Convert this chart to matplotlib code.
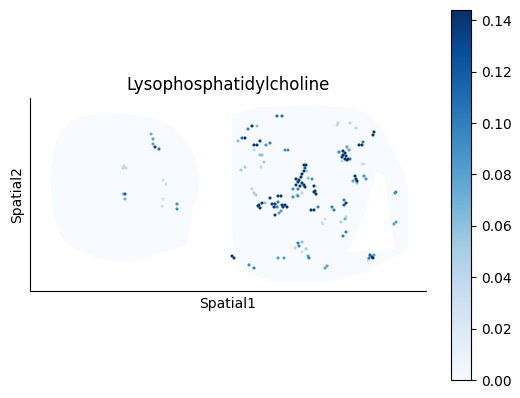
import matplotlib
matplotlib.use('Agg')
import matplotlib.pyplot as plt
from matplotlib.patches import Polygon
import numpy as np

title = 'Lysophosphatidylcholine'
vmin, vmax = 0.0, 0.144
cbar_ticks = [0.00, 0.02, 0.04, 0.06, 0.08, 0.10, 0.12, 0.14]

# tissue outlines (spatial coords, y grows downward)
left_tissue = [(63, 127), (80, 116), (113, 113), (147, 116), (170, 125), (187, 142),
               (197, 162), (200, 182), (198, 198), (193, 205), (190, 228), (187, 245),
               (177, 248), (163, 252), (147, 258), (123, 262), (97, 258), (73, 248),
               (60, 235), (53, 212), (50, 178), (53, 155), (58, 135)]
right_tissue = [(232, 115), (258, 107), (308, 105), (352, 108), (368, 115), (382, 128),
                (392, 148), (398, 162), (405, 172), (408, 195), (408, 228), (408, 248),
                (398, 255), (385, 262), (358, 275), (325, 282), (275, 282), (252, 275),
                (235, 262), (232, 228), (232, 162), (232, 128)]
right_notch = [(376, 172), (385, 176), (389, 212), (395, 250), (348, 252), (366, 212)]

# spots with signal: x, y, value
spot_x = [277, 282, 248, 252, 257, 238, 242, 245, 260, 254, 257, 266, 270, 254, 285, 288,
          260, 262, 264, 261, 245, 241,
          304, 306, 305, 304, 302, 301, 299, 296, 298, 296, 302, 304, 300, 298, 293, 307,
          308, 312, 314, 315, 305, 297, 252, 254, 256,
          270, 278, 281, 278, 293, 298, 302, 314, 316,
          262, 259, 258, 260, 265, 272, 275, 274, 277, 282, 285, 287, 283, 281, 279, 275, 318,
          311, 314, 322, 298, 299, 302, 295, 306, 302, 232, 234, 278, 284, 308, 309, 249, 254,
          396, 395, 344, 346, 344, 332, 334, 325, 323, 341, 345, 346, 346, 343, 396, 394,
          370, 372, 369, 373, 374, 368, 327, 325,
          338, 337, 350, 356, 374, 373, 363, 362, 359,
          347, 343, 339, 345, 349, 343, 346, 342, 348, 345, 350, 347, 342, 362, 364,
          355, 356, 357, 353, 357, 364, 366,
          151, 153, 153, 155, 159, 124, 123, 126, 163, 166, 123, 125, 125, 163, 162, 177, 177]
spot_y = [116, 116, 129, 126, 126, 141, 138, 138, 141, 145, 145, 145, 143, 150, 150, 150,
          155, 155, 162, 167, 167, 170,
          165, 165, 168, 171, 174, 177, 180, 179, 182, 185, 183, 185, 186, 189, 189, 171,
          178, 179, 186, 191, 187, 195, 189, 193, 195,
          198, 196, 196, 202, 197, 196, 193, 192, 194,
          203, 205, 206, 208, 203, 204, 204, 207, 207, 205, 205, 207, 207, 211, 213, 215, 207,
          210, 210, 223, 243, 246, 242, 248, 249, 252, 256, 258, 258, 258, 256, 258, 265, 268,
          192, 193, 200, 203, 205, 207, 210, 219, 224, 222, 219, 217, 232, 236, 222, 224,
          255, 257, 258, 258, 255, 260, 266, 268,
          123, 125, 123, 128, 132, 135, 142, 145, 145,
          147, 151, 152, 153, 150, 155, 156, 157, 159, 159, 159, 160, 161, 164, 164,
          176, 179, 181, 181, 183, 176, 179,
          134, 139, 144, 147, 149, 166, 168, 168, 180, 184, 194, 194, 199, 199, 206, 204, 209]
spot_val = [0.11, 0.11, 0.10, 0.14, 0.06, 0.06, 0.11, 0.14, 0.14, 0.14, 0.14, 0.09, 0.10, 0.04, 0.09, 0.09,
            0.06, 0.06, 0.05, 0.04, 0.05, 0.05,
            0.14, 0.14, 0.12, 0.14, 0.14, 0.14, 0.14, 0.14, 0.14, 0.14, 0.14, 0.14, 0.14, 0.10, 0.09, 0.05,
            0.06, 0.09, 0.14, 0.14, 0.14, 0.06, 0.04, 0.05, 0.05,
            0.14, 0.14, 0.14, 0.10, 0.09, 0.09, 0.04, 0.14, 0.14,
            0.14, 0.14, 0.14, 0.14, 0.06, 0.14, 0.14, 0.14, 0.10, 0.14, 0.14, 0.14, 0.14, 0.08, 0.08, 0.14, 0.10,
            0.14, 0.14, 0.03, 0.10, 0.10, 0.06, 0.04, 0.05, 0.03, 0.14, 0.14, 0.08, 0.08, 0.08, 0.10, 0.09, 0.10,
            0.09, 0.09, 0.10, 0.14, 0.12, 0.10, 0.10, 0.03, 0.03, 0.05, 0.07, 0.04, 0.10, 0.10, 0.08, 0.08,
            0.12, 0.14, 0.10, 0.14, 0.08, 0.04, 0.08, 0.08,
            0.04, 0.04, 0.04, 0.04, 0.14, 0.14, 0.10, 0.14, 0.14,
            0.08, 0.14, 0.10, 0.14, 0.08, 0.14, 0.14, 0.14, 0.14, 0.14, 0.10, 0.14, 0.04, 0.03, 0.03,
            0.14, 0.14, 0.14, 0.08, 0.06, 0.09, 0.09,
            0.07, 0.08, 0.08, 0.14, 0.11, 0.04, 0.04, 0.04, 0.03, 0.03, 0.06, 0.12, 0.07, 0.03, 0.03, 0.09, 0.09]

cmap = plt.get_cmap('Blues')
fig = plt.figure(figsize=(5.2, 3.98), dpi=100)
ax = fig.add_axes([30 / 520, 107 / 398, 396 / 520, 193 / 398])

for outline in [left_tissue, right_tissue]:
    ax.add_patch(Polygon(outline, closed=True, facecolor=cmap(0.0), edgecolor='none', zorder=1))
ax.add_patch(Polygon(right_notch, closed=True, facecolor='white', edgecolor='none', zorder=1))

order = np.argsort(spot_val)
sc = ax.scatter(np.array(spot_x)[order], np.array(spot_y)[order], c=np.array(spot_val)[order],
                cmap=cmap, vmin=vmin, vmax=vmax, s=5, marker='o', linewidths=0, zorder=2)

ax.set_xlim(30, 426)
ax.set_ylim(291, 98)
ax.set_xticks([])
ax.set_yticks([])
ax.spines['top'].set_visible(False)
ax.spines['right'].set_visible(False)
ax.set_xlabel('Spatial1')
ax.set_ylabel('Spatial2')
ax.set_title(title)

cax = fig.add_axes([451 / 520, 18 / 398, 20 / 520, 370 / 398])
cb = fig.colorbar(sc, cax=cax, ticks=cbar_ticks)
cb.ax.set_yticklabels(['%.2f' % t for t in cbar_ticks])

fig.savefig('out.png', dpi=100)
